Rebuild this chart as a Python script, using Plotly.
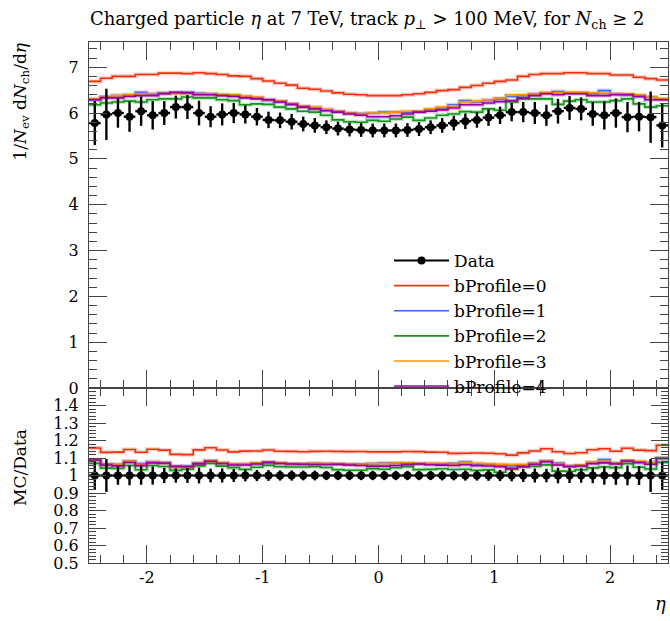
import numpy as np
import plotly.graph_objects as go

# ---------------- data ----------------
bin_edges = np.round(np.linspace(-2.5, 2.5, 51), 3)

data_vals = [5.78, 5.97, 6.00, 5.92, 6.04, 5.95, 6.00, 6.13, 6.13, 6.00, 5.92, 5.97, 6.00,
             5.97, 5.92, 5.85, 5.84, 5.81, 5.76, 5.73, 5.69, 5.66, 5.64, 5.63, 5.62,
             5.62, 5.62, 5.63, 5.65, 5.69, 5.73, 5.78, 5.82, 5.85, 5.90, 5.95, 6.02, 6.02,
             6.00, 5.95, 6.04, 6.11, 6.09, 5.98, 5.95, 6.00, 5.91, 5.92, 5.91, 5.73]
data_errs = [0.48, 0.56, 0.32, 0.33, 0.32, 0.31, 0.26, 0.25, 0.26, 0.27, 0.23, 0.24, 0.22,
             0.20, 0.19, 0.18, 0.17, 0.17, 0.16, 0.16, 0.15, 0.15, 0.15, 0.15, 0.15,
             0.15, 0.15, 0.15, 0.15, 0.15, 0.16, 0.16, 0.17, 0.17, 0.18, 0.19, 0.20, 0.22,
             0.24, 0.23, 0.27, 0.26, 0.25, 0.26, 0.31, 0.32, 0.33, 0.32, 0.56, 0.48]

bprof0 = [6.69, 6.76, 6.80, 6.80, 6.84, 6.84, 6.87, 6.87, 6.86, 6.88, 6.86, 6.84, 6.81,
          6.80, 6.75, 6.70, 6.65, 6.61, 6.54, 6.52, 6.48, 6.44, 6.41, 6.40, 6.38,
          6.38, 6.38, 6.40, 6.42, 6.45, 6.49, 6.51, 6.56, 6.60, 6.65, 6.69, 6.72, 6.80,
          6.84, 6.86, 6.86, 6.88, 6.88, 6.86, 6.86, 6.83, 6.83, 6.78, 6.75, 6.72]
bprof1 = [6.29, 6.36, 6.38, 6.40, 6.45, 6.42, 6.44, 6.44, 6.45, 6.43, 6.42, 6.40, 6.39,
          6.36, 6.33, 6.28, 6.25, 6.19, 6.14, 6.12, 6.07, 6.03, 6.00, 5.99, 6.00,
          6.02, 6.02, 6.02, 6.02, 6.07, 6.11, 6.18, 6.27, 6.24, 6.28, 6.31, 6.36, 6.38,
          6.42, 6.44, 6.47, 6.44, 6.44, 6.42, 6.49, 6.42, 6.40, 6.36, 6.35, 6.30]
bprof2 = [6.18, 6.22, 6.24, 6.26, 6.24, 6.29, 6.31, 6.31, 6.35, 6.33, 6.33, 6.29, 6.27,
          6.18, 6.20, 6.19, 6.13, 6.09, 6.04, 6.02, 5.95, 5.85, 5.81, 5.80, 5.84,
          5.82, 5.87, 5.91, 5.84, 5.89, 5.95, 5.98, 6.03, 6.02, 6.09, 6.06, 6.24, 6.31,
          6.31, 6.31, 6.19, 6.26, 6.29, 6.24, 6.24, 6.27, 6.31, 6.20, 6.13, 6.16]
bprof3 = [6.31, 6.35, 6.38, 6.40, 6.42, 6.42, 6.43, 6.43, 6.43, 6.42, 6.42, 6.40, 6.40,
          6.37, 6.35, 6.29, 6.26, 6.20, 6.15, 6.13, 6.08, 6.04, 6.00, 5.98, 6.00,
          6.00, 6.02, 6.04, 6.04, 6.09, 6.13, 6.16, 6.24, 6.26, 6.29, 6.33, 6.40, 6.40,
          6.42, 6.44, 6.44, 6.45, 6.45, 6.44, 6.43, 6.42, 6.42, 6.40, 6.35, 6.31]
bprof4 = [6.29, 6.33, 6.33, 6.36, 6.38, 6.38, 6.42, 6.45, 6.44, 6.40, 6.40, 6.38, 6.36,
          6.33, 6.31, 6.29, 6.24, 6.19, 6.13, 6.09, 6.05, 6.02, 5.98, 5.95, 5.92,
          5.92, 5.94, 5.98, 6.02, 6.04, 6.07, 6.11, 6.18, 6.18, 6.22, 6.25, 6.27, 6.33,
          6.38, 6.42, 6.40, 6.42, 6.42, 6.38, 6.38, 6.40, 6.40, 6.36, 6.29, 6.29]

mc_names = ["bProfile=0", "bProfile=1", "bProfile=2", "bProfile=3", "bProfile=4"]
mc_series = [bprof0, bprof1, bprof2, bprof3, bprof4]
mc_colors = ["#ee3311", "#3366ff", "#109618", "#ff9900", "#990099"]

x_tick_vals = [-2, -1, 0, 1, 2]
x_tick_text = ["-2", "-1", "0", "1", "2"]
y_main_ticks = [0, 1, 2, 3, 4, 5, 6, 7]
y_ratio_ticks = [0.5, 0.6, 0.7, 0.8, 0.9, 1.0, 1.1, 1.2, 1.3, 1.4]
y_ratio_text = ["0.5", "0.6", "0.7", "0.8", "0.9", "1", "1.1", "1.2", "1.3", "1.4"]

# ---------------- figure ----------------
FONT = "DejaVu Serif"
AX = "#444444"
W, H = 670, 621
L, R, T, B = 89, 668, 42, 563   # plot frame in page pixels
ml, mr, mt, mb = L, W - R, T, H - B
pw = W - ml - mr
ph = H - mt - mb
split = (B - 388) / ph

def px_x(p):   # page x -> paper x
    return (p - L) / pw

def px_y(p):   # page y -> paper y
    return (B - p) / ph

centers = 0.5 * (bin_edges[:-1] + bin_edges[1:])
halfw = 0.5 * np.diff(bin_edges)
dv = np.array(data_vals)
de = np.array(data_errs)

fig = go.Figure()

def step_xy(vals):
    return list(bin_edges), list(vals) + [vals[-1]]

for name, vals, col in zip(mc_names, mc_series, mc_colors):
    v = np.array(vals)
    xs, ys = step_xy(list(v))
    fig.add_trace(go.Scatter(x=xs, y=ys, mode="lines", line=dict(color=col, width=4, shape="hv"),
                             opacity=0.25, showlegend=False, hoverinfo="skip", xaxis="x", yaxis="y"))
    fig.add_trace(go.Scatter(x=xs, y=ys, mode="lines", line=dict(color=col, width=1.6, shape="hv"),
                             name=name, showlegend=False, xaxis="x", yaxis="y"))
    r = v / dv
    xs2, ys2 = step_xy(list(r))
    fig.add_trace(go.Scatter(x=xs2, y=ys2, mode="lines", line=dict(color=col, width=4, shape="hv"),
                             opacity=0.25, showlegend=False, hoverinfo="skip", xaxis="x2", yaxis="y2"))
    fig.add_trace(go.Scatter(x=xs2, y=ys2, mode="lines", line=dict(color=col, width=1.6, shape="hv"),
                             showlegend=False, xaxis="x2", yaxis="y2"))

# data main
fig.add_trace(go.Scatter(x=centers, y=dv, mode="markers",
                         marker=dict(color="black", size=8, symbol="circle"),
                         error_y=dict(type="data", array=de, color="black", thickness=2.4, width=0),
                         error_x=dict(type="data", array=halfw, color="black", thickness=2.4, width=0),
                         showlegend=False, xaxis="x", yaxis="y"))
# data ratio
fig.add_trace(go.Scatter(x=centers, y=dv / dv, mode="markers",
                         marker=dict(color="black", size=8, symbol="circle"),
                         error_y=dict(type="data", array=de / dv, color="black", thickness=2.4, width=0),
                         error_x=dict(type="data", array=halfw, color="black", thickness=2.4, width=0),
                         showlegend=False, xaxis="x2", yaxis="y2"))

# legend proxies
fig.add_trace(go.Scatter(x=[None], y=[None], mode="lines+markers", name="Data",
                         line=dict(color="black", width=2), marker=dict(color="black", size=8),
                         xaxis="x", yaxis="y"))
for name, col in zip(mc_names, mc_colors):
    fig.add_trace(go.Scatter(x=[None], y=[None], mode="lines", name=name,
                             line=dict(color=col, width=1.6), xaxis="x", yaxis="y"))

common_x = dict(range=[-2.5, 2.5], showgrid=False, zeroline=False, showline=True, linecolor=AX,
                linewidth=1, mirror="ticks", ticks="inside", ticklen=18, tickcolor=AX, tickwidth=1,
                tickvals=x_tick_vals, ticktext=x_tick_text, automargin=False,
                minor=dict(ticks="inside", ticklen=8, dtick=0.2, tick0=0, tickcolor=AX, showgrid=False))

fig.update_layout(
    width=W, height=H,
    margin=dict(l=ml, r=mr, t=mt, b=mb, autoexpand=False),
    paper_bgcolor="white", plot_bgcolor="white",
    font=dict(family=FONT, size=16, color="black"),
    xaxis=dict(domain=[0, 1], anchor="y", showticklabels=False, **common_x),
    yaxis=dict(domain=[split, 1], anchor="x", range=[0, 7.55], showgrid=False, zeroline=False,
               showline=True, linecolor=AX, linewidth=1, mirror="ticks", ticks="inside",
               ticklen=18, tickcolor=AX, tickvals=y_main_ticks, ticklabelstandoff=6, automargin=False,
               minor=dict(ticks="inside", ticklen=8, dtick=0.2, tickcolor=AX, showgrid=False),
               tickfont=dict(size=16)),
    xaxis2=dict(domain=[0, 1], anchor="y2", matches="x", tickfont=dict(size=16), **common_x),
    yaxis2=dict(domain=[0, split], anchor="x2", range=[0.5, 1.5], showgrid=False, zeroline=False,
                showline=True, linecolor=AX, linewidth=1, mirror="ticks", ticks="inside",
                ticklen=17, tickcolor=AX, tickvals=y_ratio_ticks, ticktext=y_ratio_text,
                ticklabelstandoff=6, automargin=False,
                minor=dict(ticks="inside", ticklen=7, dtick=0.02, tick0=0.5, tickcolor=AX, showgrid=False),
                tickfont=dict(size=16)),
    legend=dict(x=px_x(389), xanchor="left", y=px_y(243), yanchor="top",
                bgcolor="rgba(0,0,0,0)", font=dict(family=FONT, size=17), tracegroupgap=0,
                itemwidth=55),
    showlegend=True,
)

fig.add_annotation(text="Charged particle <i>η</i> at 7 TeV, track <i>p</i><sub>⊥</sub> &gt; 100 MeV, for <i>N</i><sub>ch</sub> ≥ 2",
                   xref="paper", yref="paper", x=px_x(88), y=px_y(34), xanchor="left", yanchor="bottom",
                   showarrow=False, font=dict(size=18))
fig.add_annotation(text="1/<i>N</i><sub>ev</sub> d<i>N</i><sub>ch</sub>/d<i>η</i>",
                   xref="paper", yref="paper", x=px_x(8), y=px_y(41), xanchor="left", yanchor="top",
                   textangle=-90, showarrow=False, font=dict(size=17))
fig.add_annotation(text="MC/Data",
                   xref="paper", yref="paper", x=px_x(8), y=px_y(468), xanchor="left",
                   yanchor="middle", textangle=-90, showarrow=False, font=dict(size=17))
fig.add_annotation(text="<i>η</i>", xref="paper", yref="paper", x=1, y=px_y(616),
                   xanchor="right", yanchor="bottom", showarrow=False, font=dict(size=18))

fig.write_html("out.html",
               config={"displayModeBar": False},
               post_script="document.body.style.margin='0';document.body.style.overflow='hidden';")
